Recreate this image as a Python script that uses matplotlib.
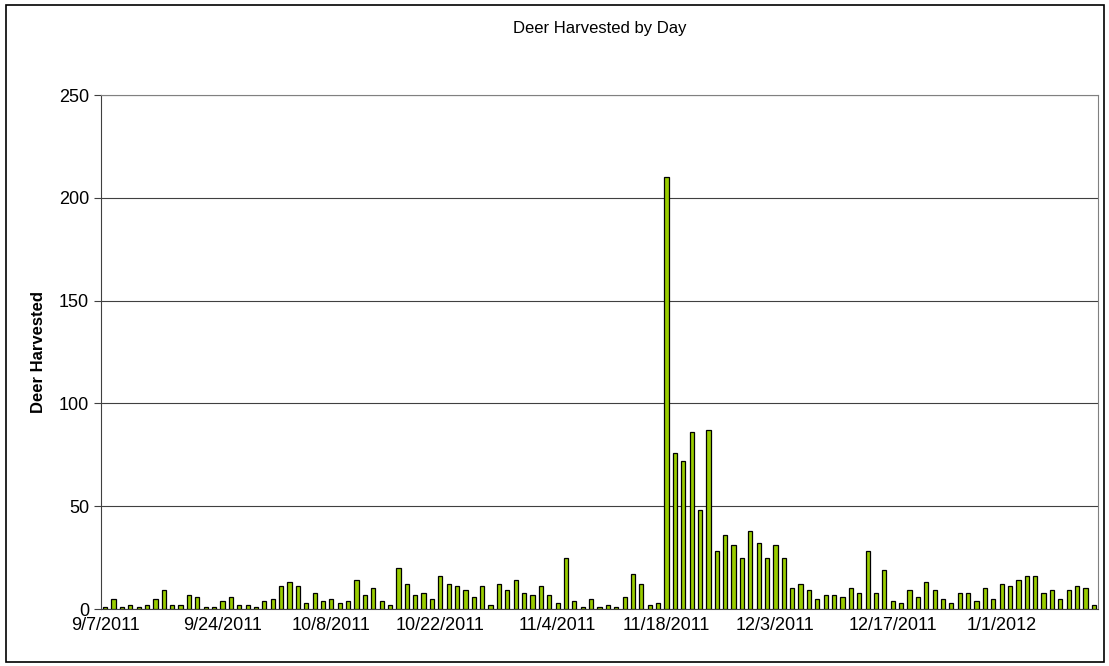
import matplotlib
matplotlib.use("Agg")
import matplotlib.pyplot as plt
import numpy as np
from matplotlib.patches import Rectangle

# daily harvest counts (119 reporting days)
harvest = [
    1, 5, 1, 2, 1, 2, 5, 9, 2, 2, 7, 6, 1, 1,
    4, 6, 2, 2, 1, 4, 5, 11, 13, 11, 3, 8, 4, 5, 3,
    4, 14, 7, 10, 4, 2, 20, 12, 7, 8, 5, 16, 12, 11, 9,
    6, 11, 2, 12, 9, 14, 8, 7, 11, 7, 3, 25, 4, 1, 5,
    1, 2, 1, 6, 17, 12, 2, 3,
    210, 76, 72, 86, 48, 87,
    28, 36, 31, 25, 38, 32, 25, 31, 25,
    10, 12, 9, 5, 7, 7, 6, 10, 8, 28, 8, 19, 4, 3, 9,
    6, 13, 9, 5, 3, 8, 8, 4, 10, 5, 12, 11, 14, 16, 16,
    8, 9, 5, 9, 11, 10, 2,
]

# category positions that carry a date label
label_idx = [0, 14, 27, 40, 54, 67, 80, 94, 107]
label_txt = ["9/7/2011", "9/24/2011", "10/8/2011", "10/22/2011", "11/4/2011",
             "11/18/2011", "12/3/2011", "12/17/2011", "1/1/2012"]

plt.rcParams['font.family'] = ['Liberation Sans', 'DejaVu Sans']

fig = plt.figure(figsize=(11.09, 6.66), dpi=100)
ax = fig.add_axes([101 / 1109, 1 - 609 / 666, (1098 - 101) / 1109, (609 - 95) / 666])

x = np.arange(len(harvest))
ax.bar(x, harvest, width=0.5, color='#99CC00', edgecolor='black', linewidth=0.9, zorder=3)

ax.set_xlim(-0.5, len(harvest) - 0.5)
ax.set_ylim(0, 250)
ax.set_yticks(range(0, 251, 50))
ax.yaxis.grid(True, color='#404040', linewidth=0.8, zorder=0)
ax.set_xticks(label_idx)
ax.set_xticklabels(label_txt, fontsize=13)
ax.tick_params(axis='y', labelsize=13, direction='out', length=5, color='#404040')
ax.tick_params(axis='x', direction='out', length=0, pad=6)

for side in ['top', 'right']:
    ax.spines[side].set_color('#808080')
ax.spines['left'].set_color('#404040')
ax.spines['bottom'].set_color('#404040')

ax.set_ylabel("Deer Harvested", fontsize=12, fontweight='bold', labelpad=9)
fig.text(0.5 * (101 + 1098) / 1109, 1 - 28 / 666, "Deer Harvested by Day",
         ha='center', va='center', fontsize=12)

# outer chart border
fig.patches.append(Rectangle((6 / 1109, 4 / 666), 1098 / 1109, 657 / 666,
                             transform=fig.transFigure, fill=False,
                             edgecolor='black', linewidth=1.2))

fig.savefig("out.png", dpi=100)
